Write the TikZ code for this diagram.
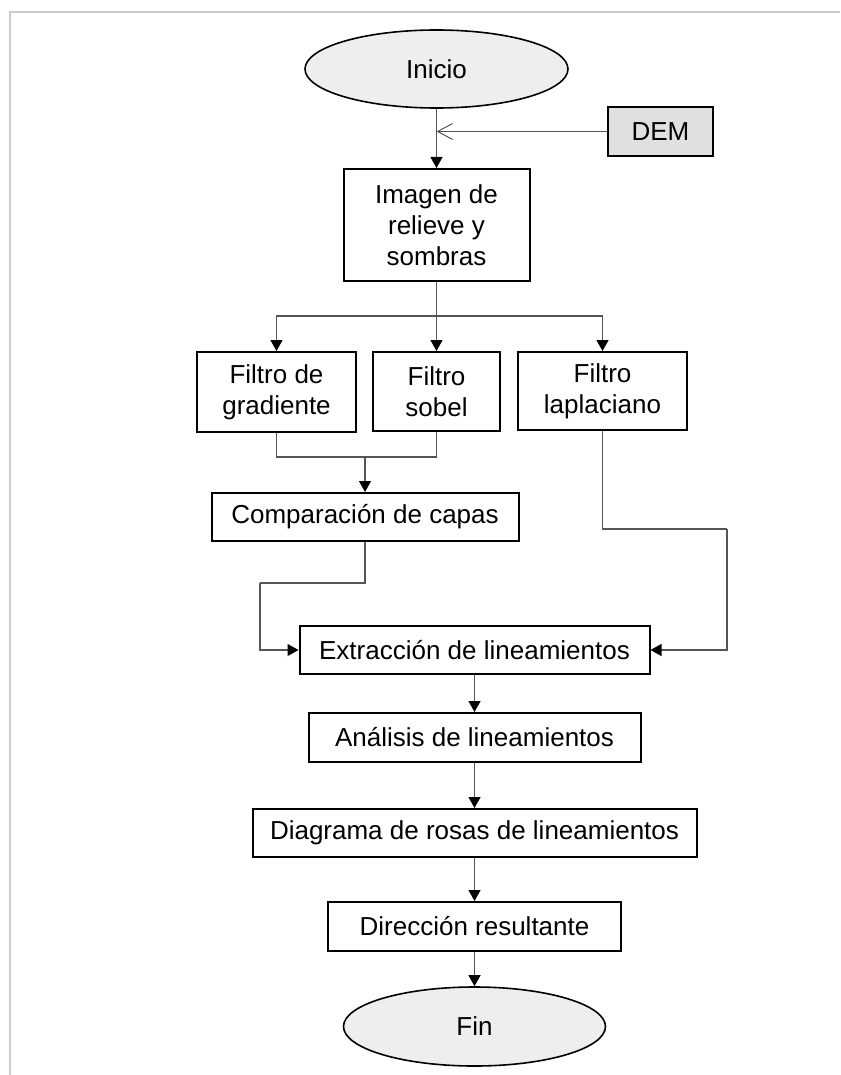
\documentclass[tikz,border=0pt]{standalone}
\usepackage{fontspec}
\setmainfont{Liberation Sans}
\usetikzlibrary{shapes.geometric,arrows.meta}
\definecolor{termfill}{HTML}{EEEEEE}
\definecolor{demfill}{HTML}{E0E0E0}
\definecolor{framegray}{HTML}{CCCCCC}
\definecolor{conngray}{HTML}{555555}
\tikzset{
  txt/.style={font=\fontsize{26}{31}\selectfont, inner sep=0pt, align=center},
  procbox/.style={txt, rectangle, draw=black, line width=2pt},
  term/.style={txt, ellipse, draw=black, line width=1.6pt, fill=termfill},
  conn/.style={draw=conngray, line width=1.2pt},
  arr/.style={conn, -{Triangle[length=11pt,width=12pt,fill=black,color=black]}},
  openarr/.style={conn, -{Straight Barb[length=15pt,width=16pt,line width=1pt]}}
}
\begin{document}
\begin{tikzpicture}[x=1pt,y=-1pt]
\useasboundingbox (0,0) rectangle (840,1075);
\draw[framegray, line width=2pt] (840,12) -- (10,12) -- (10,1075);

\node[term, minimum width=263pt, minimum height=78pt] (inicio) at (436.5,69) {Inicio};
\node[procbox, fill=demfill, minimum width=105pt, minimum height=49pt] (dem) at (660.5,131.5) {DEM};
\node[procbox, minimum width=186pt, minimum height=112pt] (imagen) at (436.5,225) {Imagen de\\relieve y\\sombras};
\node[procbox, minimum width=159pt, minimum height=80pt] (grad) at (276.5,392) {Filtro de\\gradiente};
\node[procbox, minimum width=127pt, minimum height=79pt] (sobel) at (436.5,391.5) {Filtro\\sobel};
\node[procbox, minimum width=169pt, minimum height=78pt] (lap) at (602.5,391) {Filtro\\laplaciano};
\node[procbox, minimum width=307pt, minimum height=48pt] (comp) at (365,517) {Comparación de capas};
\node[procbox, minimum width=350pt, minimum height=48pt] (ext) at (474.5,650) {Extracción de lineamientos};
\node[procbox, minimum width=332pt, minimum height=49pt] (anal) at (474.5,737.5) {Análisis de lineamientos};
\node[procbox, minimum width=444pt, minimum height=48pt] (diag) at (474.5,833) {Diagrama de rosas de lineamientos};
\node[procbox, minimum width=293pt, minimum height=49pt] (dir) at (474.5,926.5) {Dirección resultante};
\node[term, minimum width=262pt, minimum height=79pt] (fin) at (474.5,1026.5) {Fin};

\coordinate (br) at (436.5,316);
\coordinate (mg) at (365,457);
\coordinate (c1) at (260,583);
\coordinate (c2) at (727,529);

% top
\draw[arr] (inicio.south) -- (imagen.north);
\draw[openarr] (dem.west) -- (inicio.south |- dem.west);

% branch to filters
\draw[conn] (imagen.south) -- (br);
\draw[arr] (br) -| (grad.north);
\draw[arr] (br) -- (sobel.north);
\draw[arr] (br) -| (lap.north);

% merge
\draw[conn] (grad.south) |- (mg);
\draw[conn] (sobel.south) |- (mg);
\draw[arr] (mg) -- (comp.north);

% to extraction
\draw[conn] (comp.south) |- (c1);
\draw[arr] (c1) |- (ext.west);
\draw[conn] (lap.south) |- (c2);
\draw[arr] (c2) |- (ext.east);

% main chain
\draw[arr] (ext.south) -- (anal.north);
\draw[arr] (anal.south) -- (diag.north);
\draw[arr] (diag.south) -- (dir.north);
\draw[arr] (dir.south) -- (fin.north);
\end{tikzpicture}
\end{document}
